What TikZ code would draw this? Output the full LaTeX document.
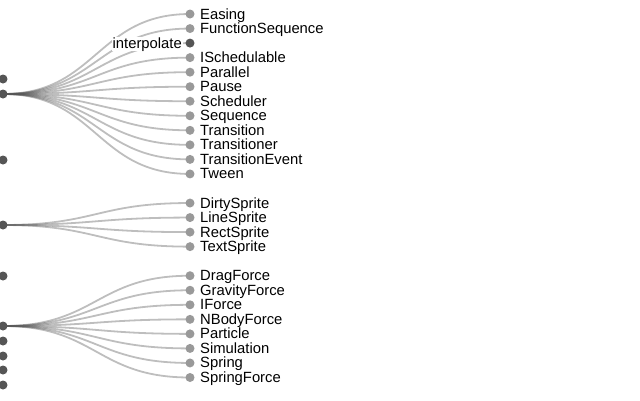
\documentclass[tikz,border=0pt]{standalone}
\usepackage{fontspec}
\setmainfont{Liberation Sans}
\usetikzlibrary{calc,positioning,backgrounds}
\definecolor{nodedark}{HTML}{555555}
\definecolor{nodelight}{HTML}{999999}

\begin{document}
\begin{tikzpicture}[
  x=1pt,y=-1pt,
  link/.style={draw=nodedark,draw opacity=0.38,line width=1.8pt},
  leaf/.style={circle,fill=nodelight,minimum size=9pt,inner sep=0pt},
  branch/.style={circle,fill=nodedark,minimum size=9pt,inner sep=0pt},
  lbl/.style={font=\fontsize{14.8}{16}\selectfont,inner sep=0pt},
  ]
  \useasboundingbox (0,0) rectangle (640,400);

  %top level
  \foreach \name/\y in {analytics/79,animate/94,data/160,display/225,flex/276,
                        physics/326,query/341,scale/356,util/370,vis/385}
   {
     \node (\name) [branch] at (3,\y) {};
     \coordinate (mid_\name) at (96.5,\y);
   }

  %animate
  \foreach \i/\name in {0/Easing,1/FunctionSequence,3/ISchedulable,4/Parallel,
                        5/Pause,6/Scheduler,7/Sequence,8/Transition,
                        9/Transitioner,10/TransitionEvent,11/Tween}
   {
     \node (leaf_\i) [leaf] at (190,14+14.54*\i) {};
     \node (label_\i) [lbl,anchor=base west] at ($(leaf_\i.center)+(10,5)$) {\name};
     \begin{scope}[on background layer]
       \draw[link] (animate.center) .. controls (mid_animate) and (mid_animate |- leaf_\i) .. (leaf_\i.center);
     \end{scope}
   }
  \node (leaf_2) [branch] at (190,14+14.54*2) {};
  \node (label_2) [lbl,anchor=base east,fill=white,inner xsep=1pt] at ($(leaf_2.center)+(-7,5)$) {interpolate};
  \begin{scope}[on background layer]
    \draw[link] (animate.center) .. controls (mid_animate) and (mid_animate |- leaf_2) .. (leaf_2.center);
  \end{scope}

  %display
  \foreach \i/\name in {13/DirtySprite,14/LineSprite,15/RectSprite,16/TextSprite}
   {
     \node (leaf_\i) [leaf] at (190,14+14.54*\i) {};
     \node (label_\i) [lbl,anchor=base west] at ($(leaf_\i.center)+(10,5)$) {\name};
     \begin{scope}[on background layer]
       \draw[link] (display.center) .. controls (mid_display) and (mid_display |- leaf_\i) .. (leaf_\i.center);
     \end{scope}
   }

  %physics
  \foreach \i/\name in {18/DragForce,19/GravityForce,20/IForce,21/NBodyForce,
                        22/Particle,23/Simulation,24/Spring,25/SpringForce}
   {
     \node (leaf_\i) [leaf] at (190,14+14.54*\i) {};
     \node (label_\i) [lbl,anchor=base west] at ($(leaf_\i.center)+(10,5)$) {\name};
     \begin{scope}[on background layer]
       \draw[link] (physics.center) .. controls (mid_physics) and (mid_physics |- leaf_\i) .. (leaf_\i.center);
     \end{scope}
   }

\end{tikzpicture}
\end{document}
